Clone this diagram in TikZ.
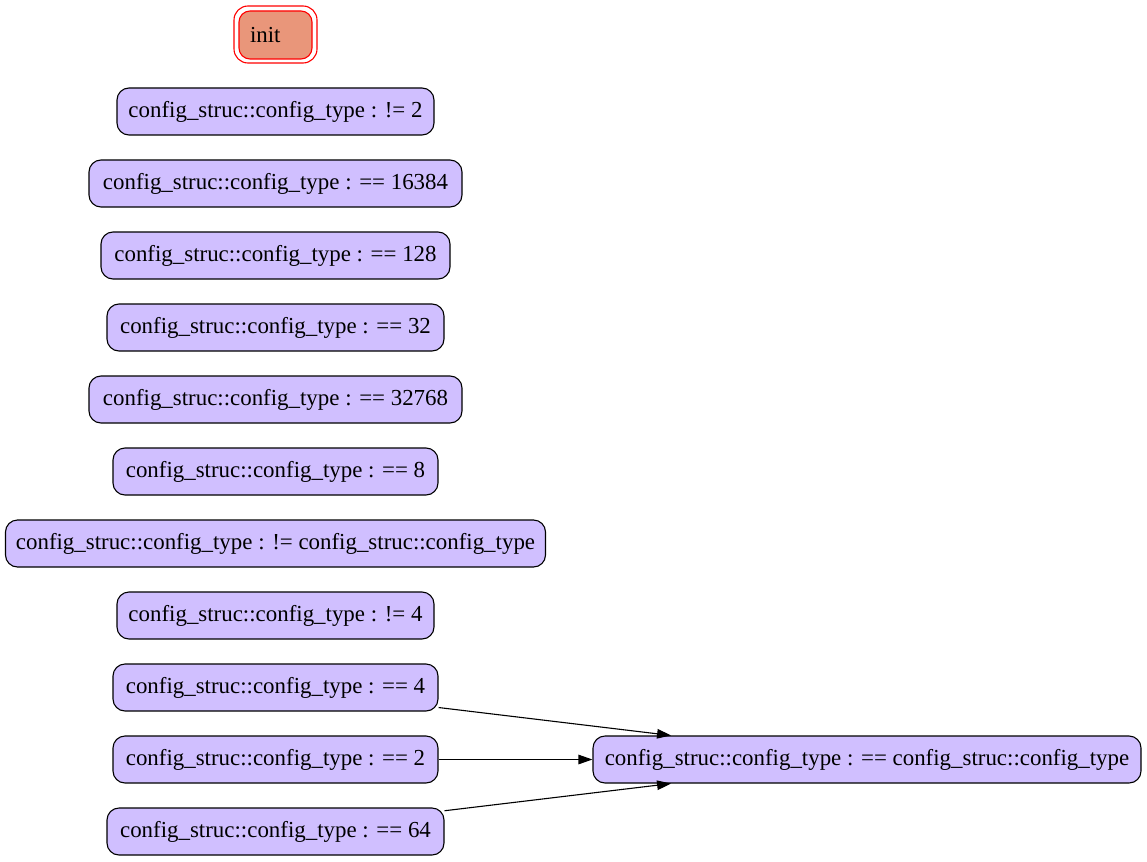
\documentclass[tikz,border=0pt]{standalone}
\usepackage{fontspec}
\setmainfont{Liberation Serif}
\usetikzlibrary{arrows.meta}
\begin{document}
\begin{tikzpicture}[x=1pt,y=-1pt,
  cond/.style={draw=black, fill=condfill, rounded corners=12pt, line width=1.1pt, minimum height=47pt, inner sep=0pt, font=\fontsize{22.9}{25}\selectfont},
  initbox/.style={draw=red, fill=initfill, rounded corners=11pt, line width=1.1pt, minimum width=73pt, minimum height=48pt, inner sep=0pt, font=\fontsize{22.9}{25}\selectfont},
  edge/.style={draw=black, line width=1.1pt, -{Triangle[length=14pt,width=9.5pt]}}]
\definecolor{condfill}{HTML}{D0BFFF}
\definecolor{initfill}{HTML}{E9967A}
\useasboundingbox (0,0) rectangle (1147,861);
\draw[red, line width=1.1pt, rounded corners=14pt] (234,6) rectangle (317,63);
\node[initbox, align=left, text width=51pt] (init) at (275.5,35) {init};
\node[cond, minimum width=317pt] (ne2) at (275.5,111.5) {config\_struc::config\_type : != 2};
\node[cond, minimum width=373pt] (eq16384) at (275.5,183.5) {config\_struc::config\_type : == 16384};
\node[cond, minimum width=349pt] (eq128) at (275.5,255.5) {config\_struc::config\_type : == 128};
\node[cond, minimum width=337pt] (eq32) at (275.5,327.5) {config\_struc::config\_type : == 32};
\node[cond, minimum width=373pt] (eq32768) at (275.5,399.5) {config\_struc::config\_type : == 32768};
\node[cond, minimum width=325pt] (eq8) at (275.5,471.5) {config\_struc::config\_type : == 8};
\node[cond, minimum width=540pt] (necs) at (275.5,543.5) {config\_struc::config\_type : != config\_struc::config\_type};
\node[cond, minimum width=317pt] (ne4) at (275.5,615.5) {config\_struc::config\_type : != 4};
\node[cond, minimum width=325pt] (eq4) at (275.5,687.5) {config\_struc::config\_type : == 4};
\node[cond, minimum width=325pt] (eq2) at (275.5,759.5) {config\_struc::config\_type : == 2};
\node[cond, minimum width=337pt] (eq64) at (275.5,831.5) {config\_struc::config\_type : == 64};
\node[cond, minimum width=548pt] (eqcs) at (867,759.5) {config\_struc::config\_type : == config\_struc::config\_type};
\draw[edge] (eq4.-7.2) -- (eqcs.173.3);
\draw[edge] (eq2.east) -- (eqcs.west);
\draw[edge] (eq64.7) -- (eqcs.-173.3);
\end{tikzpicture}
\end{document}
